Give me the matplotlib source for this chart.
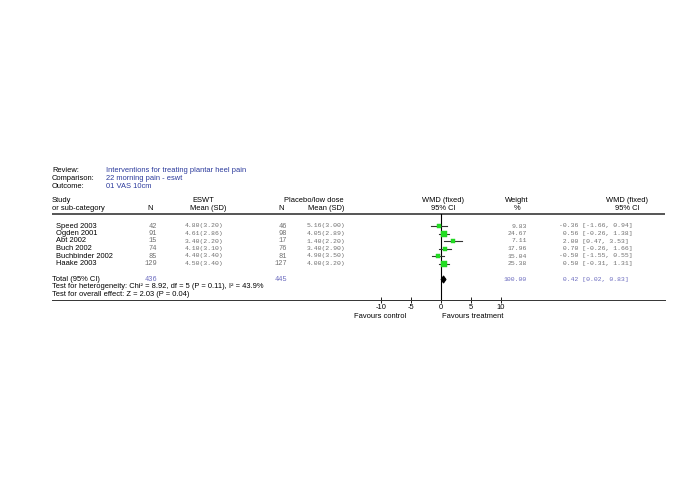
import matplotlib
matplotlib.use("Agg")
import matplotlib.pyplot as plt

plt.rcParams["axes.unicode_minus"] = False

# data
studies = ["Speed 2003", "Ogden 2001", "Abt 2002", "Buch 2002",
           "Buchbinder 2002", "Haake 2003"]
n_eswt = [42, 91, 15, 74, 85, 129]
mean_eswt = [4.80, 4.61, 3.40, 4.10, 4.40, 4.50]
sd_eswt = [3.20, 2.86, 2.20, 3.10, 3.40, 3.40]
n_ctrl = [46, 98, 17, 76, 81, 127]
mean_ctrl = [5.16, 4.05, 1.40, 3.40, 4.90, 4.00]
sd_ctrl = [3.00, 2.89, 2.20, 2.90, 3.50, 3.20]
weights = [9.83, 24.67, 7.11, 17.96, 15.04, 25.38]
wmd = [-0.36, 0.56, 2.00, 0.70, -0.50, 0.50]
ci_lo = [-1.66, -0.26, 0.47, -0.26, -1.55, -0.31]
ci_hi = [0.94, 1.38, 3.53, 1.66, 0.55, 1.31]
total_n = [436, 445]
total_weight = 100.00
total_wmd, total_lo, total_hi = 0.42, 0.02, 0.83
ticks = [-10, -5, 0, 5, 10]

W, H = 685, 484
SANS = "Liberation Sans"
MONO = "Liberation Mono"
FS = 5.4
MS = 4.6
NS = 5.0
BLUE = "#2b3a9c"
TBLUE = "#6a6abf"
GREY = "#6e6e6e"

fig = plt.figure(figsize=(W / 100, H / 100), dpi=100)
ax = fig.add_axes([0, 0, 1, 1])
ax.set_xlim(0, W)
ax.set_ylim(H, 0)
ax.axis("off")


def txt(x, y, s, ha="left", color="black", family=SANS, size=FS):
    ax.text(x, y, s, ha=ha, va="center", color=color, family=family,
            fontsize=size)


# top info block
for i, (lab, val) in enumerate([("Review:", "Interventions for treating plantar heel pain"),
                                ("Comparison:", "22 morning pain - eswt"),
                                ("Outcome:", "01 VAS 10cm")]):
    y = 171 + i * 7.5
    txt(52, y, lab)
    txt(106, y, val, color=BLUE)

# headers
txt(52, 200, "Study")
txt(52, 208, "or sub-category")
txt(150, 208, "N", ha="center")
txt(203, 200, "ESWT", ha="center")
txt(208, 208, "Mean (SD)", ha="center")
txt(281, 208, "N", ha="center")
txt(344, 200, "Placebo/low dose", ha="right")
txt(344, 208, "Mean (SD)", ha="right")
txt(443, 200, "WMD (fixed)", ha="center")
txt(443, 208, "95% CI", ha="center")
txt(517, 200, "Weight", ha="center")
txt(517, 208, "%", ha="center")
txt(627, 200, "WMD (fixed)", ha="center")
txt(627, 208, "95% CI", ha="center")

ax.plot([52, 665], [213.5, 213.5], color="#555555", lw=1.4,
        solid_capstyle="butt")
ax.plot([52, 665], [300, 300], color="#333333", lw=0.7)

row_y = [226 + 7.5 * i for i in range(len(studies))]
total_y = 279.5

for i, y in enumerate(row_y):
    txt(56, y, studies[i])
    txt(157, y, str(n_eswt[i]), ha="right", color=GREY, family=MONO, size=NS)
    txt(204, y, f"{mean_eswt[i]:.2f}({sd_eswt[i]:.2f})", ha="center",
        color=GREY, family=MONO, size=MS)
    txt(287, y, str(n_ctrl[i]), ha="right", color=GREY, family=MONO, size=NS)
    txt(326, y, f"{mean_ctrl[i]:.2f}({sd_ctrl[i]:.2f})", ha="center",
        color=GREY, family=MONO, size=MS)
    txt(527, y, f"{weights[i]:.2f}", ha="right", color=GREY, family=MONO,
        size=MS)
    txt(559, y, f"{wmd[i]:5.2f} [{ci_lo[i]:.2f}, {ci_hi[i]:.2f}]",
        color=GREY, family=MONO, size=MS)

txt(52, total_y, "Total (95% CI)")
txt(157, total_y, str(total_n[0]), ha="right", color=TBLUE, family=MONO,
    size=NS)
txt(287, total_y, str(total_n[1]), ha="right", color=TBLUE, family=MONO,
    size=NS)
txt(527, total_y, f"{total_weight:.2f}", ha="right", color=TBLUE,
    family=MONO, size=MS)
txt(559, total_y, f"{total_wmd:5.2f} [{total_lo:.2f}, {total_hi:.2f}]",
    color=TBLUE, family=MONO, size=MS)
txt(52, 287, "Test for heterogeneity: Chi\u00b2 = 8.92, df = 5 (P = 0.11), I\u00b2 = 43.9%")
txt(52, 294.5, "Test for overall effect: Z = 2.03 (P = 0.04)")

# forest panel
fx = fig.add_axes([381 / W, (H - 300) / H, 120 / W, (300 - 213.5) / H])
fx.set_xlim(-10, 10)
fx.set_ylim(300, 213.5)
fx.patch.set_alpha(0)
for s in ["top", "left", "right"]:
    fx.spines[s].set_visible(False)
fx.spines["bottom"].set_linewidth(0.7)
fx.spines["bottom"].set_color("#333333")
fx.set_yticks([])
fx.set_xticks(ticks)
fx.tick_params(axis="x", direction="inout", length=4, width=0.6,
               labelsize=FS, pad=1)
for lab in fx.get_xticklabels():
    lab.set_family(SANS)
fx.axvline(0, color="black", lw=0.8)

for i, y in enumerate(row_y):
    fx.plot([ci_lo[i], ci_hi[i]], [y, y], color="#333333", lw=0.8)
    fx.plot(wmd[i], y, marker="s", ms=2.4 + 0.05 * weights[i],
            color="#22dd22", mec="#22cc22", mew=0.3)

fx.fill([total_lo, total_wmd, total_hi, total_wmd],
        [total_y, total_y - 3.5, total_y, total_y + 3.5],
        color="black", lw=0.8, ec="black")

txt(380, 317, "Favours control", ha="center")
txt(473, 317, "Favours treatment", ha="center")

fig.savefig("out.png", dpi=100)
